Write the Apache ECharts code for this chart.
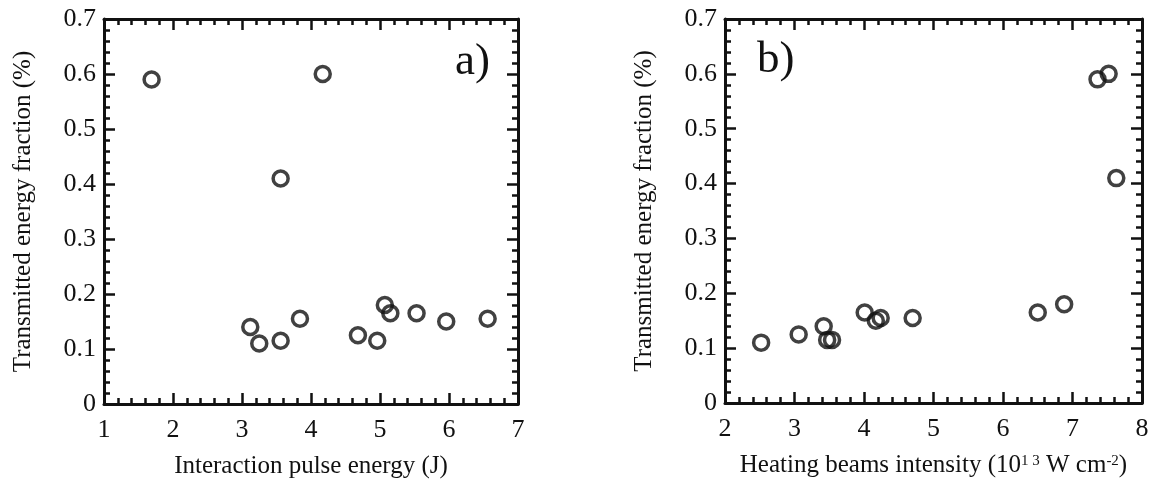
<!DOCTYPE html>
<html>
<head>
<meta charset="utf-8">
<script src="https://cdn.jsdelivr.net/npm/echarts@6/dist/echarts.min.js"></script>
<style>
  html, body { margin: 0; padding: 0; background: #fff; }
  #chart { width: 1153px; height: 484px; }
</style>
</head>
<body>
<div id="chart"></div>
<script>
// panel a) : interaction pulse energy (J) vs transmitted fraction (%)
const aEnergy = [1.69, 4.17, 3.56, 3.12, 3.25, 3.56, 3.84, 4.68, 4.96, 5.07, 5.15, 5.53, 5.96, 6.56]
const aFraction = [0.59, 0.60, 0.41, 0.14, 0.11, 0.115, 0.155, 0.125, 0.115, 0.18, 0.165, 0.165, 0.15, 0.155]
// panel b) : heating beams intensity (1e13 W cm-2) vs transmitted fraction (%)
const bIntensity = [2.52, 3.06, 3.42, 3.47, 3.54, 4.01, 4.17, 4.24, 4.70, 6.50, 6.88, 7.36, 7.52, 7.63]
const bFraction = [0.11, 0.125, 0.14, 0.115, 0.115, 0.165, 0.15, 0.155, 0.155, 0.165, 0.18, 0.59, 0.60, 0.41]
const yTicks = [0, 0.1, 0.2, 0.3, 0.4, 0.5, 0.6, 0.7]

const ink = '#111'
const serif = '"Liberation Serif", "DejaVu Serif", serif'

function pairs(xs, ys) {
  return xs.map((x, i) => [x, ys[i]])
}

function xAxisOf(grid, min, max, pos, showLabel, name) {
  return {
    type: 'value', gridIndex: grid, position: pos, min: min, max: max, interval: 1,
    axisLine: { show: true, onZero: false, lineStyle: { color: ink, width: 3 } },
    axisTick: { show: true, inside: true, length: 11, lineStyle: { color: ink, width: 2.5 } },
    minorTick: { show: true, splitNumber: 5, length: 6, lineStyle: { color: ink, width: 2.5 } },
    splitLine: { show: false },
    axisLabel: { show: showLabel, margin: 13, color: ink, fontFamily: serif, fontSize: 26 },
    name: name || '',
    nameLocation: 'middle',
    nameGap: 50,
    nameTextStyle: { color: ink, fontFamily: serif, fontSize: 25, rich: {
      sup: { fontSize: 15, fontFamily: serif, color: ink, padding: [0, 0, 8, 0] }
    } }
  }
}

function yAxisOf(grid, pos, showLabel, name) {
  return {
    type: 'value', gridIndex: grid, position: pos, min: 0, max: 0.7, interval: 0.1,
    axisLine: { show: true, onZero: false, lineStyle: { color: ink, width: 3 } },
    axisTick: { show: true, inside: true, length: 11, lineStyle: { color: ink, width: 2.5 } },
    minorTick: { show: true, splitNumber: 5, length: 6, lineStyle: { color: ink, width: 2.5 } },
    splitLine: { show: false },
    axisLabel: {
      show: showLabel, margin: 8, color: ink, fontFamily: serif, fontSize: 26,
      formatter: v => {
        const t = yTicks.find(k => Math.abs(k - v) < 1e-6)
        return t === 0 ? '0' : String(t)
      }
    },
    name: name || '',
    nameLocation: 'middle',
    nameGap: 68,
    nameTextStyle: { color: ink, fontFamily: serif, fontSize: 25 }
  }
}

function circles(xi, yi, data) {
  return {
    type: 'scatter', xAxisIndex: xi, yAxisIndex: yi, data: data,
    symbol: 'circle', symbolSize: 15,
    itemStyle: { color: 'rgba(255,255,255,0)', borderColor: ink, borderWidth: 3.5 },
    emphasis: { disabled: true }
  }
}

const chart = echarts.init(document.getElementById('chart'))
chart.setOption({
  backgroundColor: '#fff',
  animation: false,
  grid: [
    { left: 104, top: 19, width: 414, height: 385 },
    { left: 725, top: 19, width: 417, height: 384 }
  ],
  xAxis: [
    xAxisOf(0, 1, 7, 'bottom', true, 'Interaction pulse energy (J)'),
    xAxisOf(0, 1, 7, 'top', false),
    xAxisOf(1, 2, 8, 'bottom', true, 'Heating beams intensity (10{sup|1 3} W cm{sup|-2})'),
    xAxisOf(1, 2, 8, 'top', false)
  ],
  yAxis: [
    yAxisOf(0, 'left', true, 'Transmitted energy fraction (%)'),
    yAxisOf(0, 'right', false),
    yAxisOf(1, 'left', true, 'Transmitted energy fraction (%)'),
    yAxisOf(1, 'right', false)
  ],
  graphic: [
    { type: 'text', left: 455, top: 40, style: { text: 'a)', fontFamily: serif, fontSize: 45, fill: ink } },
    { type: 'text', left: 757, top: 38, style: { text: 'b)', fontFamily: serif, fontSize: 45, fill: ink } }
  ],
  series: [
    circles(0, 0, pairs(aEnergy, aFraction)),
    circles(2, 2, pairs(bIntensity, bFraction))
  ]
})
</script>
</body>
</html>
